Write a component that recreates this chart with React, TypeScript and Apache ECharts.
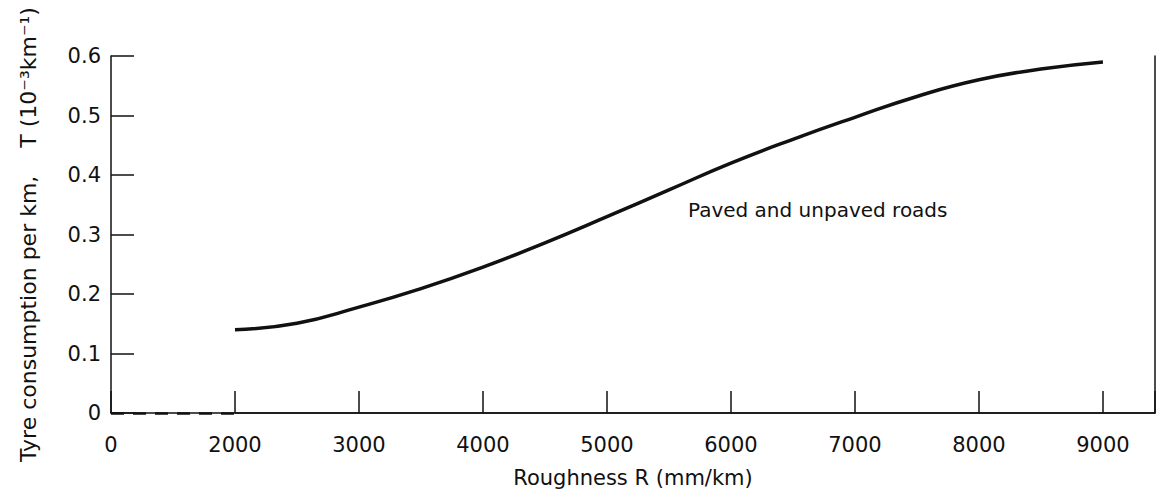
import React, { useEffect, useRef } from "react";
import * as echarts from "echarts";

// Roughness R (mm/km)
const roughness = [2000, 2500, 3000, 3500, 4000, 4500, 5000, 5500, 6000, 6500, 7000, 7500, 8000, 8500, 9000];
// Tyre consumption per km, T (10^-3 km^-1)
const tyreConsumption = [0.14, 0.151, 0.178, 0.209, 0.245, 0.286, 0.33, 0.375, 0.42, 0.46, 0.497, 0.532, 0.56, 0.578, 0.59];

// broken x axis: the left edge carries the label "0", real scale starts at 2000
const xAxisMin = 1000;
const xBreakEnd = 2000;
const xAxisMax = 9420;
const xLastTick = 9000;
const yTickLabels = ["0", "0.1", "0.2", "0.3", "0.4", "0.5", "0.6"];

const curveLabel = "Paved and unpaved roads";
const xName = "Roughness R (mm/km)";
const yName = "Tyre consumption per km,    T (10\u207B\u00B3km\u207B\u00B9)";

const FONT = "DejaVu Sans";
const INK = "#111";

export default function App() {
  const ref = useRef<HTMLDivElement>(null);

  useEffect(() => {
    if (!ref.current) return;
    const chart = echarts.init(ref.current, undefined, { renderer: "svg" });
    const curve = roughness.map((r, i) => [r, tyreConsumption[i]]);

    chart.setOption({
      animation: false,
      backgroundColor: "#fff",
      grid: { left: 111, right: 5, top: 56, bottom: 83, show: false },
      xAxis: [
        {
          type: "value",
          position: "bottom",
          min: xAxisMin,
          max: xAxisMax,
          interval: 1000,
          splitLine: { show: false },
          axisLine: { show: false },
          axisTick: { show: true, inside: true, length: 22, lineStyle: { color: INK, width: 1.5 } },
          axisLabel: {
            color: INK,
            fontFamily: FONT,
            fontSize: 21,
            margin: 21,
            formatter: (v: number) => (v === xAxisMin ? "0" : v > xLastTick ? "" : String(v)),
          },
          name: xName,
          nameLocation: "middle",
          nameGap: 54,
          nameTextStyle: { color: INK, fontFamily: FONT, fontSize: 21 },
        },
        {
          type: "value",
          position: "top",
          min: xAxisMin,
          max: xAxisMax,
          splitLine: { show: false },
          axisLine: { show: true, lineStyle: { color: INK, width: 1.5 } },
          axisTick: { show: false },
          axisLabel: { show: false },
        },
      ],
      yAxis: [
        {
          type: "value",
          position: "left",
          min: 0,
          max: 0.6,
          interval: 0.1,
          splitLine: { show: false },
          axisLine: { show: true, lineStyle: { color: INK, width: 1.5 } },
          axisTick: { show: true, inside: true, length: 23, lineStyle: { color: INK, width: 1.5 } },
          axisLabel: {
            color: INK,
            fontFamily: FONT,
            fontSize: 21,
            margin: 10,
            formatter: (v: number) => yTickLabels[Math.round(v * 10)] ?? "",
          },
          name: yName,
          nameLocation: "middle",
          nameGap: 72,
          nameTextStyle: { color: INK, fontFamily: FONT, fontSize: 22 },
        },
        {
          type: "value",
          position: "right",
          min: 0,
          max: 0.6,
          splitLine: { show: false },
          axisLine: { show: true, lineStyle: { color: INK, width: 1.5 } },
          axisTick: { show: false },
          axisLabel: { show: false },
        },
      ],
      series: [
        {
          type: "line",
          data: curve,
          smooth: true,
          symbol: "none",
          lineStyle: { color: INK, width: 3.5 },
          markLine: {
            silent: true,
            symbol: "none",
            label: { show: false },
            data: [
              [
                { coord: [xAxisMin, 0], lineStyle: { color: INK, width: 2.5, type: [13, 9] } },
                { coord: [xBreakEnd, 0] },
              ],
              [
                { coord: [xBreakEnd, 0], lineStyle: { color: INK, width: 1.5, type: "solid" } },
                { coord: [xAxisMax, 0] },
              ],
            ],
          },
        },
      ],
      graphic: [
        {
          type: "text",
          left: 688,
          top: 200,
          style: { text: curveLabel, fill: INK, font: `20px "${FONT}"` },
        },
      ],
    });

    return () => chart.dispose();
  }, []);

  return (
    <div
      ref={ref}
      style={{ position: "fixed", left: 0, top: 0, width: 1160, height: 496, background: "#fff" }}
    />
  );
}
